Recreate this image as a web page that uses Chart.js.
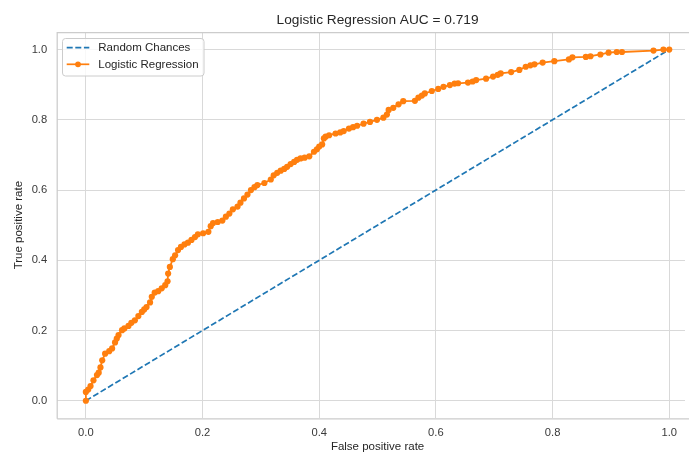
<!DOCTYPE html>
<html>
<head>
<meta charset="utf-8">
<title>Logistic Regression ROC</title>
<script src="https://cdn.jsdelivr.net/npm/chart.js@4.4.1/dist/chart.umd.min.js"></script>
<style>
  html, body { margin: 0; padding: 0; background: #ffffff; }
  #wrap { width: 689px; height: 456px; }
</style>
</head>
<body>
<div id="wrap"><canvas id="roc" width="689" height="456"></canvas></div>
<script>
// Chart texts
const chartTitle = 'Logistic Regression AUC = 0.719';
const xLabel = 'False positive rate';
const yLabel = 'True positive rate';
const seriesNames = ['Random Chances', 'Logistic Regression'];

// Tick values
const xTicks = [0.0, 0.2, 0.4, 0.6, 0.8, 1.0];
const yTicks = [0.0, 0.2, 0.4, 0.6, 0.8, 1.0];

// Diagonal reference line
const randomFpr = [0, 1];
const randomTpr = [0, 1];

// ROC curve
const lrFpr = [
  0, 0, 0.004, 0.008, 0.013, 0.019, 0.022, 0.025, 0.028, 0.033,
  0.040, 0.045, 0.050, 0.053, 0.056, 0.062, 0.066, 0.073, 0.078, 0.084,
  0.090, 0.096, 0.100, 0.104, 0.110, 0.113, 0.118, 0.124, 0.130, 0.136,
  0.140, 0.141, 0.144, 0.149, 0.153, 0.158, 0.163, 0.169, 0.175, 0.181,
  0.187, 0.192, 0.201, 0.210, 0.214, 0.218, 0.226, 0.234, 0.240, 0.246,
  0.252, 0.260, 0.265, 0.271, 0.277, 0.283, 0.289, 0.294, 0.306, 0.317,
  0.322, 0.328, 0.334, 0.340, 0.345, 0.351, 0.357, 0.362, 0.368, 0.375,
  0.383, 0.391, 0.396, 0.400, 0.405, 0.408, 0.411, 0.417, 0.428, 0.436,
  0.442, 0.451, 0.458, 0.465, 0.476, 0.487, 0.499, 0.510, 0.516, 0.519,
  0.527, 0.536, 0.544, 0.564, 0.570, 0.576, 0.581, 0.593, 0.604, 0.613,
  0.624, 0.632, 0.638, 0.655, 0.663, 0.669, 0.686, 0.698, 0.706, 0.711,
  0.729, 0.743, 0.754, 0.762, 0.769, 0.783, 0.803, 0.828, 0.834, 0.857,
  0.865, 0.882, 0.896, 0.910, 0.919, 0.973, 0.990, 1.0
];
const lrTpr = [
  0, 0.025, 0.032, 0.042, 0.058, 0.073, 0.080, 0.095, 0.115, 0.134,
  0.141, 0.149, 0.166, 0.177, 0.187, 0.201, 0.206, 0.213, 0.222, 0.229,
  0.241, 0.253, 0.260, 0.267, 0.280, 0.296, 0.308, 0.312, 0.320, 0.329,
  0.340, 0.362, 0.381, 0.403, 0.414, 0.429, 0.438, 0.445, 0.450, 0.458,
  0.466, 0.474, 0.477, 0.481, 0.497, 0.506, 0.509, 0.513, 0.524, 0.533,
  0.545, 0.553, 0.564, 0.576, 0.587, 0.600, 0.608, 0.614, 0.620, 0.630,
  0.642, 0.649, 0.655, 0.660, 0.666, 0.674, 0.680, 0.686, 0.690, 0.692,
  0.696, 0.709, 0.716, 0.724, 0.730, 0.747, 0.752, 0.756, 0.761, 0.764,
  0.768, 0.775, 0.779, 0.783, 0.789, 0.794, 0.800, 0.806, 0.815, 0.828,
  0.834, 0.844, 0.853, 0.854, 0.863, 0.869, 0.875, 0.882, 0.888, 0.894,
  0.899, 0.903, 0.904, 0.906, 0.909, 0.913, 0.917, 0.923, 0.928, 0.932,
  0.936, 0.942, 0.951, 0.955, 0.958, 0.963, 0.967, 0.972, 0.978, 0.979,
  0.981, 0.986, 0.991, 0.993, 0.993, 0.997, 1.0, 1.0
];

const BLUE = '#1f77b4';
const ORANGE = '#ff7f0e';
const TEXT = '#262626';
const TICK = '#3a3a3a';
const FONT = '"Liberation Sans", Arial, sans-serif';

function toPoints(xs, ys) {
  return xs.map((x, i) => ({ x: x, y: ys[i] }));
}

/**
 * Draws title, x label, the frame and the legend box (matplotlib style)
 */
const decorPlugin = {
  id: 'decor',
  beforeDatasetsDraw(chart) {
    const { ctx, chartArea } = chart;
    ctx.save();
    ctx.strokeStyle = '#cccccc';
    ctx.lineWidth = 1.25;
    ctx.beginPath();
    ctx.moveTo(chartArea.left + 0.5, chartArea.bottom + 0.5);
    ctx.lineTo(chartArea.left + 0.5, chartArea.top + 0.5);
    ctx.lineTo(chart.width, chartArea.top + 0.5);
    ctx.moveTo(chartArea.left + 0.5, chartArea.bottom + 0.5);
    ctx.lineTo(chart.width, chartArea.bottom + 0.5);
    ctx.stroke();
    ctx.restore();
  },
  afterDraw(chart) {
    const { ctx } = chart;
    const xs = chart.scales.x;
    const cx = xs.getPixelForValue(0.5);
    ctx.save();
    ctx.fillStyle = TEXT;
    ctx.textAlign = 'center';
    ctx.textBaseline = 'middle';

    // Title
    ctx.font = '13.7px ' + FONT;
    ctx.fillText(chartTitle, cx, 20);

    // X axis label
    ctx.font = '11.5px ' + FONT;
    ctx.fillText(xLabel, cx, 447);

    // Legend
    const lx = 62.5, ly = 38.5, lw = 141.5, lh = 37.5;
    ctx.beginPath();
    ctx.roundRect(lx, ly, lw, lh, 3);
    ctx.fillStyle = 'rgba(255,255,255,0.8)';
    ctx.fill();
    ctx.strokeStyle = '#cccccc';
    ctx.lineWidth = 1;
    ctx.stroke();

    const rows = [47.7, 64.3];
    ctx.lineWidth = 1.7;

    ctx.strokeStyle = BLUE;
    ctx.setLineDash([6, 2.6]);
    ctx.beginPath();
    ctx.moveTo(66.7, rows[0]);
    ctx.lineTo(89.3, rows[0]);
    ctx.stroke();
    ctx.setLineDash([]);

    ctx.strokeStyle = ORANGE;
    ctx.beginPath();
    ctx.moveTo(66.7, rows[1]);
    ctx.lineTo(89.3, rows[1]);
    ctx.stroke();
    ctx.fillStyle = ORANGE;
    ctx.beginPath();
    ctx.arc(78, rows[1], 2.9, 0, Math.PI * 2);
    ctx.fill();

    ctx.fillStyle = TEXT;
    ctx.textAlign = 'left';
    ctx.font = '11.5px ' + FONT;
    seriesNames.forEach((name, i) => {
      ctx.fillText(name, 98.3, rows[i] + 0.5);
    });
    ctx.restore();
  }
};

const canvas = document.getElementById('roc');
new Chart(canvas, {
  type: 'scatter',
  data: {
    datasets: [
      {
        label: seriesNames[0],
        data: toPoints(randomFpr, randomTpr),
        showLine: true,
        borderColor: BLUE,
        borderWidth: 1.7,
        borderDash: [6, 2.6],
        pointRadius: 0,
        order: 2
      },
      {
        label: seriesNames[1],
        data: toPoints(lrFpr, lrTpr),
        showLine: true,
        borderColor: ORANGE,
        backgroundColor: ORANGE,
        borderWidth: 1.8,
        pointRadius: 3.1,
        pointBorderWidth: 0,
        pointBackgroundColor: ORANGE,
        order: 1
      }
    ]
  },
  options: {
    responsive: false,
    animation: false,
    devicePixelRatio: 1,
    layout: { padding: { top: 32, left: 0, right: 0, bottom: 0 } },
    plugins: {
      legend: { display: false },
      title: { display: false },
      tooltip: { enabled: false }
    },
    scales: {
      x: {
        type: 'linear',
        min: -0.05,
        max: 1.027,
        afterBuildTicks: (scale) => { scale.ticks = xTicks.map(v => ({ value: v })); },
        afterFit: (scale) => { scale.height = 37.7; },
        border: { display: false },
        grid: { color: '#d9d9d9', lineWidth: 1, drawTicks: false },
        ticks: {
          padding: 8,
          color: TICK,
          font: { family: FONT, size: 11.2 },
          callback: (v) => Number(v).toFixed(1)
        }
      },
      y: {
        type: 'linear',
        min: -0.05,
        max: 1.05,
        afterBuildTicks: (scale) => { scale.ticks = yTicks.map(v => ({ value: v })); },
        afterFit: (scale) => { scale.width = 56.7; },
        border: { display: false },
        grid: { color: '#d9d9d9', lineWidth: 1, drawTicks: false },
        title: {
          display: true,
          text: yLabel,
          color: TEXT,
          font: { family: FONT, size: 11.5 },
          padding: { top: 11.5, bottom: 0 }
        },
        ticks: {
          padding: 9.5,
          color: TICK,
          font: { family: FONT, size: 11.2 },
          callback: (v) => Number(v).toFixed(1)
        }
      }
    }
  },
  plugins: [decorPlugin]
});
</script>
</body>
</html>
